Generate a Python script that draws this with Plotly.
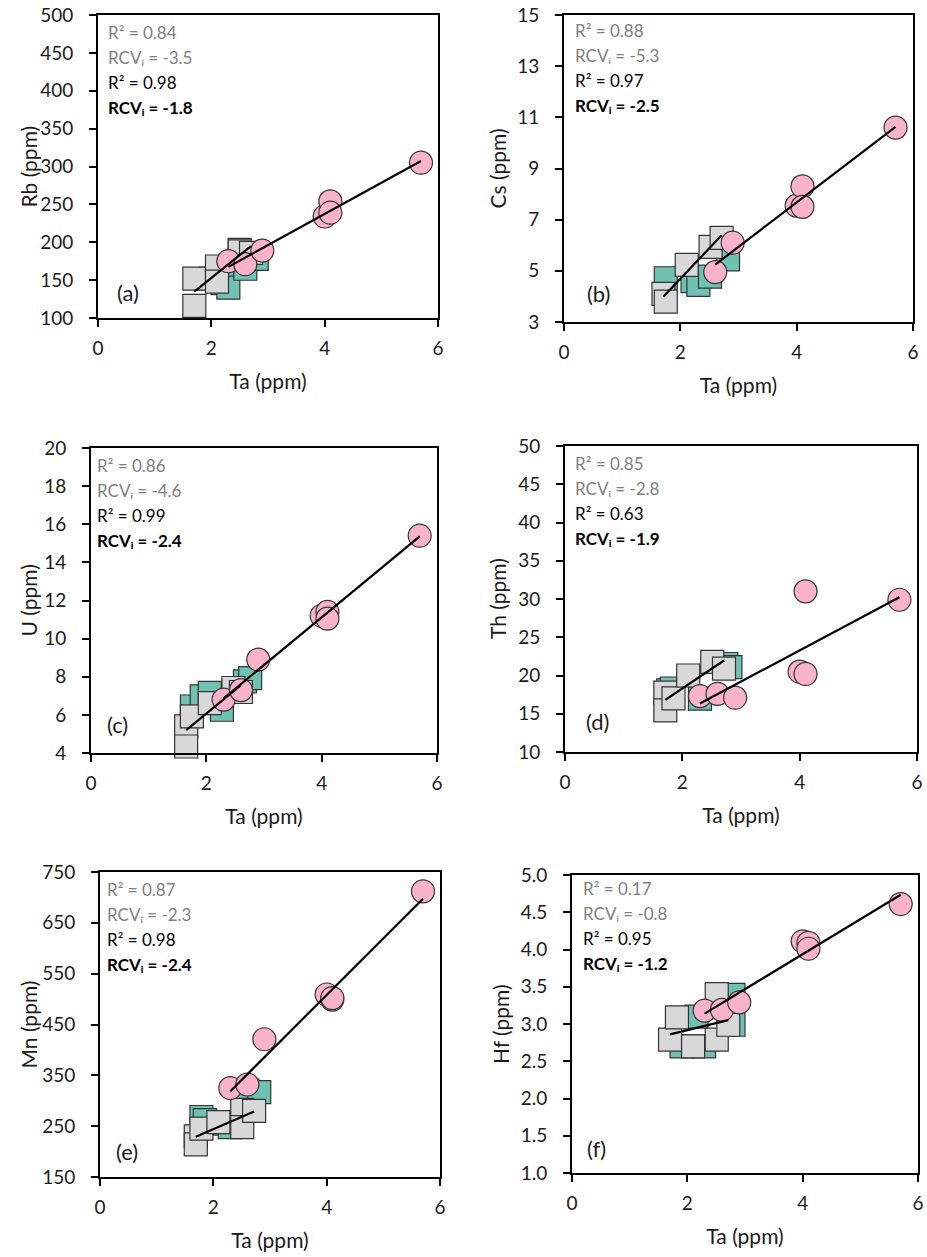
import numpy as np
import plotly.graph_objects as go

# ---------------- data ----------------
ta_pink = [2.3, 2.6, 2.9, 4.0, 4.1, 4.1, 5.7]

# (a) Rb
rb_pink = [175, 171, 189, 234, 254, 239, 305]
rb_gray_x = [1.7, 1.7, 2.1, 2.1, 2.5, 2.5, 2.7]
rb_gray_y = [152, 116, 168, 148, 190, 188, 186]
rb_teal_x = [2.0, 2.2, 2.3, 2.6, 2.8]
rb_teal_y = [152, 146, 140, 165, 178]

# (b) Cs
cs_pink = [None, 4.95, 6.1, 7.55, 8.3, 7.5, 10.6]
cs_gray_x = [1.71, 1.75, 2.11, 2.52, 2.71]
cs_gray_y = [4.1, 3.8, 5.23, 5.94, 6.29]
cs_teal_x = [1.75, 2.21, 2.31, 2.51, 2.82]
cs_teal_y = [4.71, 4.6, 4.45, 4.77, 5.45]

# (c) U
u_pink = [6.8, 7.3, 8.9, 11.2, 11.4, 11.05, 15.4]
u_gray_x = [1.65, 1.65, 1.75, 2.06, 2.47, 2.6]
u_gray_y = [5.4, 4.34, 5.92, 6.62, 7.41, 7.2]
u_teal_x = [1.75, 1.92, 2.06, 2.27, 2.67, 2.76]
u_teal_y = [6.44, 6.97, 7.15, 6.27, 7.76, 7.93]

# (d) Th
th_pink = [17.3, 17.6, 17.1, 20.5, 31.0, 20.2, 29.9]
th_gray_x = [1.71, 1.71, 1.85, 2.10, 2.51, 2.71]
th_gray_y = [17.76, 15.44, 17.0, 20.0, 21.77, 20.9]
th_teal_x = [1.76, 1.82, 2.30, 2.75, 2.82]
th_teal_y = [18.06, 18.3, 16.97, 21.5, 21.1]

# (e) Mn
mn_pink = [325, 332, 421, 509, 499, 502, 712]
mn_gray_x = [1.69, 1.69, 1.79, 2.09, 2.51, 2.51, 2.72]
mn_gray_y = [230, 214, 245, 258, 282, 248, 280]
mn_teal_x = [1.79, 1.85, 2.20, 2.29, 2.60, 2.81]
mn_teal_y = [268, 262, 255, 248, 320, 317]

# (f) Hf
hf_pink = [3.18, 3.19, 3.29, 4.11, 4.09, 4.01, 4.61]
hf_gray_x = [1.70, 1.82, 2.10, 2.51, 2.51, 2.71]
hf_gray_y = [2.79, 3.09, 2.70, 2.79, 3.40, 2.99]
hf_teal_x = [1.90, 2.29, 2.16, 2.80, 2.80]
hf_teal_y = [2.70, 2.70, 3.10, 3.39, 2.99]

y_titles = ["Rb (ppm)", "Cs (ppm)", "U (ppm)", "Th (ppm)", "Mn (ppm)", "Hf (ppm)"]
x_title = "Ta (ppm)"
panel_letters = ["(a)", "(b)", "(c)", "(d)", "(e)", "(f)"]
y_ranges = [[100, 500], [3, 15], [4, 20], [10, 50], [150, 750], [1, 5]]
y_dticks = [50, 2, 2, 5, 100, 0.5]
r2_gray = ["0.84", "0.88", "0.86", "0.85", "0.87", "0.17"]
rcv_gray = ["-3.5", "-5.3", "-4.6", "-2.8", "-2.3", "-0.8"]
r2_black = ["0.98", "0.97", "0.99", "0.63", "0.98", "0.95"]
rcv_black = ["-1.8", "-2.5", "-2.4", "-1.9", "-2.4", "-1.2"]

panels = [
    (rb_pink, rb_gray_x, rb_gray_y, rb_teal_x, rb_teal_y),
    (cs_pink, cs_gray_x, cs_gray_y, cs_teal_x, cs_teal_y),
    (u_pink, u_gray_x, u_gray_y, u_teal_x, u_teal_y),
    (th_pink, th_gray_x, th_gray_y, th_teal_x, th_teal_y),
    (mn_pink, mn_gray_x, mn_gray_y, mn_teal_x, mn_teal_y),
    (hf_pink, hf_gray_x, hf_gray_y, hf_teal_x, hf_teal_y),
]

# ---------------- style / layout ----------------
W, H = 927, 1257
FONT = "Lato"
PINK = "#F8B3CB"
TEAL = "#6FC2B2"
GRAY = "#D8D8D8"
EDGE = "#333333"
INK = "#1a1a1a"

# plot-area boxes in pixels: (left, right, top, bottom)
boxes = [(98, 438, 15, 318), (564, 913, 15, 322),
         (91, 437, 448, 753), (565, 917, 446, 752),
         (100, 440, 872, 1177), (572, 918, 875, 1173)]
ytitle_px = [28, 497, 28, 497, 28, 500]
text_x = [0.0235, 0.026, 0.011, 0.023, 0.016, 0.027]
text_top = [17, 15, 17, 17, 17, 13]
label_x = [0.05, 0.06, 0.04, 0.054, 0.041, 0.039]
label_y = [0.083, 0.094, 0.092, 0.099, 0.083, 0.083]

fig = go.Figure()


def fit_line(xs, ys):
    pts = [(a, b) for a, b in zip(xs, ys) if b is not None]
    xa = np.array([p[0] for p in pts], float)
    ya = np.array([p[1] for p in pts], float)
    m, c = np.polyfit(xa, ya, 1)
    xl = np.array([xa.min(), xa.max()])
    return xl, m * xl + c


for i, (pk, gx, gy, tx, ty) in enumerate(panels):
    L, R, T, B = boxes[i]
    n = i + 1
    xa = "x" if n == 1 else f"x{n}"
    ya = "y" if n == 1 else f"y{n}"
    common = dict(xaxis=xa, yaxis=ya, showlegend=False, cliponaxis=False)
    fig.add_trace(go.Scatter(x=tx, y=ty, mode="markers",
                             marker=dict(symbol="square", size=23, color=TEAL,
                                         line=dict(color=EDGE, width=1.2)), **common))
    fig.add_trace(go.Scatter(x=gx, y=gy, mode="markers",
                             marker=dict(symbol="square", size=23, color=GRAY,
                                         line=dict(color=EDGE, width=1.2)), **common))
    px_ = [a for a, b in zip(ta_pink, pk) if b is not None]
    py_ = [b for b in pk if b is not None]
    fig.add_trace(go.Scatter(x=px_, y=py_, mode="markers",
                             marker=dict(symbol="circle", size=23, color=PINK,
                                         line=dict(color=EDGE, width=1.2)), **common))
    lx, ly = fit_line(gx, gy)
    fig.add_trace(go.Scatter(x=lx, y=ly, mode="lines", line=dict(color="black", width=2.2), **common))
    lx, ly = fit_line(ta_pink, pk)
    fig.add_trace(go.Scatter(x=lx, y=ly, mode="lines", line=dict(color="black", width=2.2), **common))

    axis_common = dict(showline=True, linecolor="black", linewidth=2, mirror=True,
                       ticks="outside", ticklen=7, tickwidth=2, tickcolor="black",
                       showgrid=False, zeroline=False, automargin=True,
                       tickfont=dict(family=FONT, size=19, color=INK))
    fig.layout[("xaxis" if n == 1 else f"xaxis{n}")] = dict(
        domain=[L / W, R / W], anchor=ya, range=[0, 6], dtick=2, tick0=0,
        ticklabelstandoff=5,
        title=dict(text=x_title, font=dict(family=FONT, size=21, color=INK), standoff=17),
        **axis_common)
    fig.layout[("yaxis" if n == 1 else f"yaxis{n}")] = dict(
        domain=[1 - B / H, 1 - T / H], anchor=xa, range=y_ranges[i], dtick=y_dticks[i],
        tick0=y_ranges[i][0], tickformat=".1f" if i == 5 else None, ticklabelstandoff=12,
        **axis_common)

    # y-axis title
    fig.add_annotation(text=y_titles[i], xref="paper", yref="paper",
                       x=ytitle_px[i] / W, y=1 - (T + B) / 2 / H, textangle=-90,
                       xanchor="center", yanchor="middle", showarrow=False,
                       font=dict(family=FONT, size=21, color=INK))

    dom_h = B - T
    lines = [
        (f"R² = {r2_gray[i]}", "#808080"),
        (f"RCVᵢ = {rcv_gray[i]}", "#808080"),
        (f"R² = {r2_black[i]}", "black"),
        (f"<b>RCVᵢ = {rcv_black[i]}</b>", "black"),
    ]
    for k, (t, col) in enumerate(lines):
        yy = 1 - (text_top[i] + 25 * k) / dom_h
        fig.add_annotation(text=t, xref=f"{xa} domain", yref=f"{ya} domain",
                           x=text_x[i], y=yy, xanchor="left", yanchor="middle",
                           showarrow=False, font=dict(family=FONT, size=17, color=col))
    fig.add_annotation(text=panel_letters[i], xref=f"{xa} domain", yref=f"{ya} domain",
                       x=label_x[i], y=label_y[i], xanchor="left", yanchor="middle",
                       showarrow=False, font=dict(family=FONT, size=22, color=INK))

fig.update_layout(width=W, height=H, margin=dict(l=0, r=0, t=0, b=0, autoexpand=False),
                  paper_bgcolor="white", plot_bgcolor="white",
                  font=dict(family=FONT))
fig.write_html("out.html")
